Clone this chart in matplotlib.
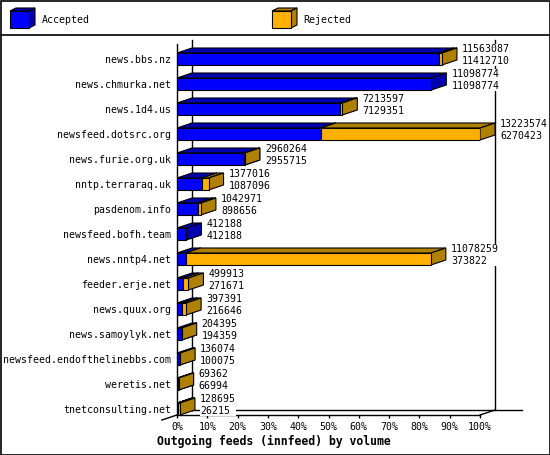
import numpy as np
import matplotlib
matplotlib.use("Agg")
import matplotlib.pyplot as plt
from matplotlib.patches import Polygon, Rectangle

# feed data (offered = first number, accepted = second number)
feeds = ['news.bbs.nz', 'news.chmurka.net', 'news.1d4.us', 'newsfeed.dotsrc.org',
         'news.furie.org.uk', 'nntp.terraraq.uk', 'pasdenom.info', 'newsfeed.bofh.team',
         'news.nntp4.net', 'feeder.erje.net', 'news.quux.org', 'news.samoylyk.net',
         'newsfeed.endofthelinebbs.com', 'weretis.net', 'tnetconsulting.net']
offered = [11563087, 11098774, 7213597, 13223574, 2960264, 1377016, 1042971, 412188,
           11078259, 499913, 397391, 204395, 136074, 69362, 128695]
accepted = [11412710, 11098774, 7129351, 6270423, 2955715, 1087096, 898656, 412188,
            373822, 271671, 216646, 194359, 100075, 66994, 26215]
xticks = [0, 10, 20, 30, 40, 50, 60, 70, 80, 90, 100]

BLUE, BLUE_D = '#0000ff', '#0000b0'
ORANGE, ORANGE_D = '#ffb000', '#b08000'
MONO = 'DejaVu Sans Mono'
FS = 7.1

fig = plt.figure(figsize=(5.5, 4.55), dpi=100)

# decoration layer in pixel coordinates (border, legend)
deco = fig.add_axes([0, 0, 1, 1], zorder=0)
deco.set_xlim(0, 550)
deco.set_ylim(455, 0)
deco.axis('off')
deco.add_patch(Rectangle((0.5, 0.5), 549, 454, fill=False, ec='black', lw=1.2))
deco.plot([0, 550], [35, 35], color='black', lw=1.2)


def cube(ax, x, y, w, h, d, dy, fc, dc, lw=0.8, z=3):
    ax.add_patch(Polygon([(x, y), (x + w, y), (x + w + d, y - dy), (x + d, y - dy)],
                         closed=True, fc=dc, ec='black', lw=lw, zorder=z))
    ax.add_patch(Polygon([(x + w, y), (x + w, y + h), (x + w + d, y + h - dy), (x + w + d, y - dy)],
                         closed=True, fc=dc, ec='black', lw=lw, zorder=z))
    ax.add_patch(Rectangle((x, y), w, h, fc=fc, ec='black', lw=lw, zorder=z))


cube(deco, 10, 11, 19, 17, 6, 3, BLUE, BLUE_D)
deco.text(42, 20, 'Accepted', family=MONO, fontsize=FS, va='center')
cube(deco, 272, 11, 19, 17, 6, 3, ORANGE, ORANGE_D)
deco.text(303, 20, 'Rejected', family=MONO, fontsize=FS, va='center')
deco.text(157, 441, 'Outgoing feeds (innfeed) by volume', family=MONO,
          fontsize=8.3, fontweight='bold', va='center')

# main chart
ax = fig.add_axes([177 / 550, 40 / 455, 303 / 550, 375 / 455], zorder=1)
ax.patch.set_alpha(0)
n = len(feeds)
ytop, ybot = -0.76, n - 0.76
ax.set_xlim(0, 100)
ax.set_ylim(ybot, ytop)

DX = 15 * 100 / 303   # depth in percent
DY = 0.2              # depth in rows
H = 0.48              # bar height in rows

for s in ['top', 'right']:
    ax.spines[s].set_visible(False)
ax.spines['left'].set_bounds(-0.6, ybot)
ax.spines['left'].set_linewidth(1)
ax.spines['bottom'].set_linewidth(1)

# back wall and floor
fl = dict(color='black', lw=1, clip_on=False, zorder=1)
ax.plot([DX, DX], [ytop, ybot - DY], **fl)
ax.plot([100 + DX, 100 + DX], [ytop, ybot - DY], **fl)
ax.plot([DX, 114], [ybot - DY, ybot - DY], **fl)
ax.plot([-5, DX], [ybot + DY, ybot - DY], **fl)
ax.plot([100, 100 + DX], [ybot, ybot - DY], **fl)

top_total = max(offered)
for i in range(n):
    acc = accepted[i] / top_total * 100
    tot = offered[i] / top_total * 100
    y0 = i - H / 2
    segs = [(0, acc, BLUE, BLUE_D)]
    if tot > acc:
        segs.append((acc, tot, ORANGE, ORANGE_D))
    for a, b, fc, dc in segs:
        ax.add_patch(Polygon([(a, y0), (b, y0), (b + DX, y0 - DY), (a + DX, y0 - DY)],
                             closed=True, fc=dc, ec='black', lw=0.8, zorder=3, clip_on=False))
        ax.add_patch(Polygon([(b, y0), (b, y0 + H), (b + DX, y0 + H - DY), (b + DX, y0 - DY)],
                             closed=True, fc=dc, ec='black', lw=0.8, zorder=3, clip_on=False))
        ax.barh(i, b - a, left=a, height=H, color=fc, edgecolor='black', lw=0.8, zorder=3)
    ax.annotate(f'{offered[i]}\n{accepted[i]}', (tot + DX, i), xytext=(5, 4),
                textcoords='offset pixels', family=MONO, fontsize=FS, va='center',
                ha='left', linespacing=1.15, zorder=5, annotation_clip=False,
                bbox=dict(fc='white', ec='none', pad=0))

ax.set_yticks(range(n))
ax.set_yticklabels(feeds, family=MONO, fontsize=FS)
ax.tick_params(axis='y', length=0, pad=4.3)
ax.set_xticks(xticks)
ax.set_xticklabels([f'{t}%' for t in xticks], family=MONO, fontsize=FS)
ax.tick_params(axis='x', length=2.2, width=1, pad=3.2)

fig.savefig('out.png', dpi=100)
